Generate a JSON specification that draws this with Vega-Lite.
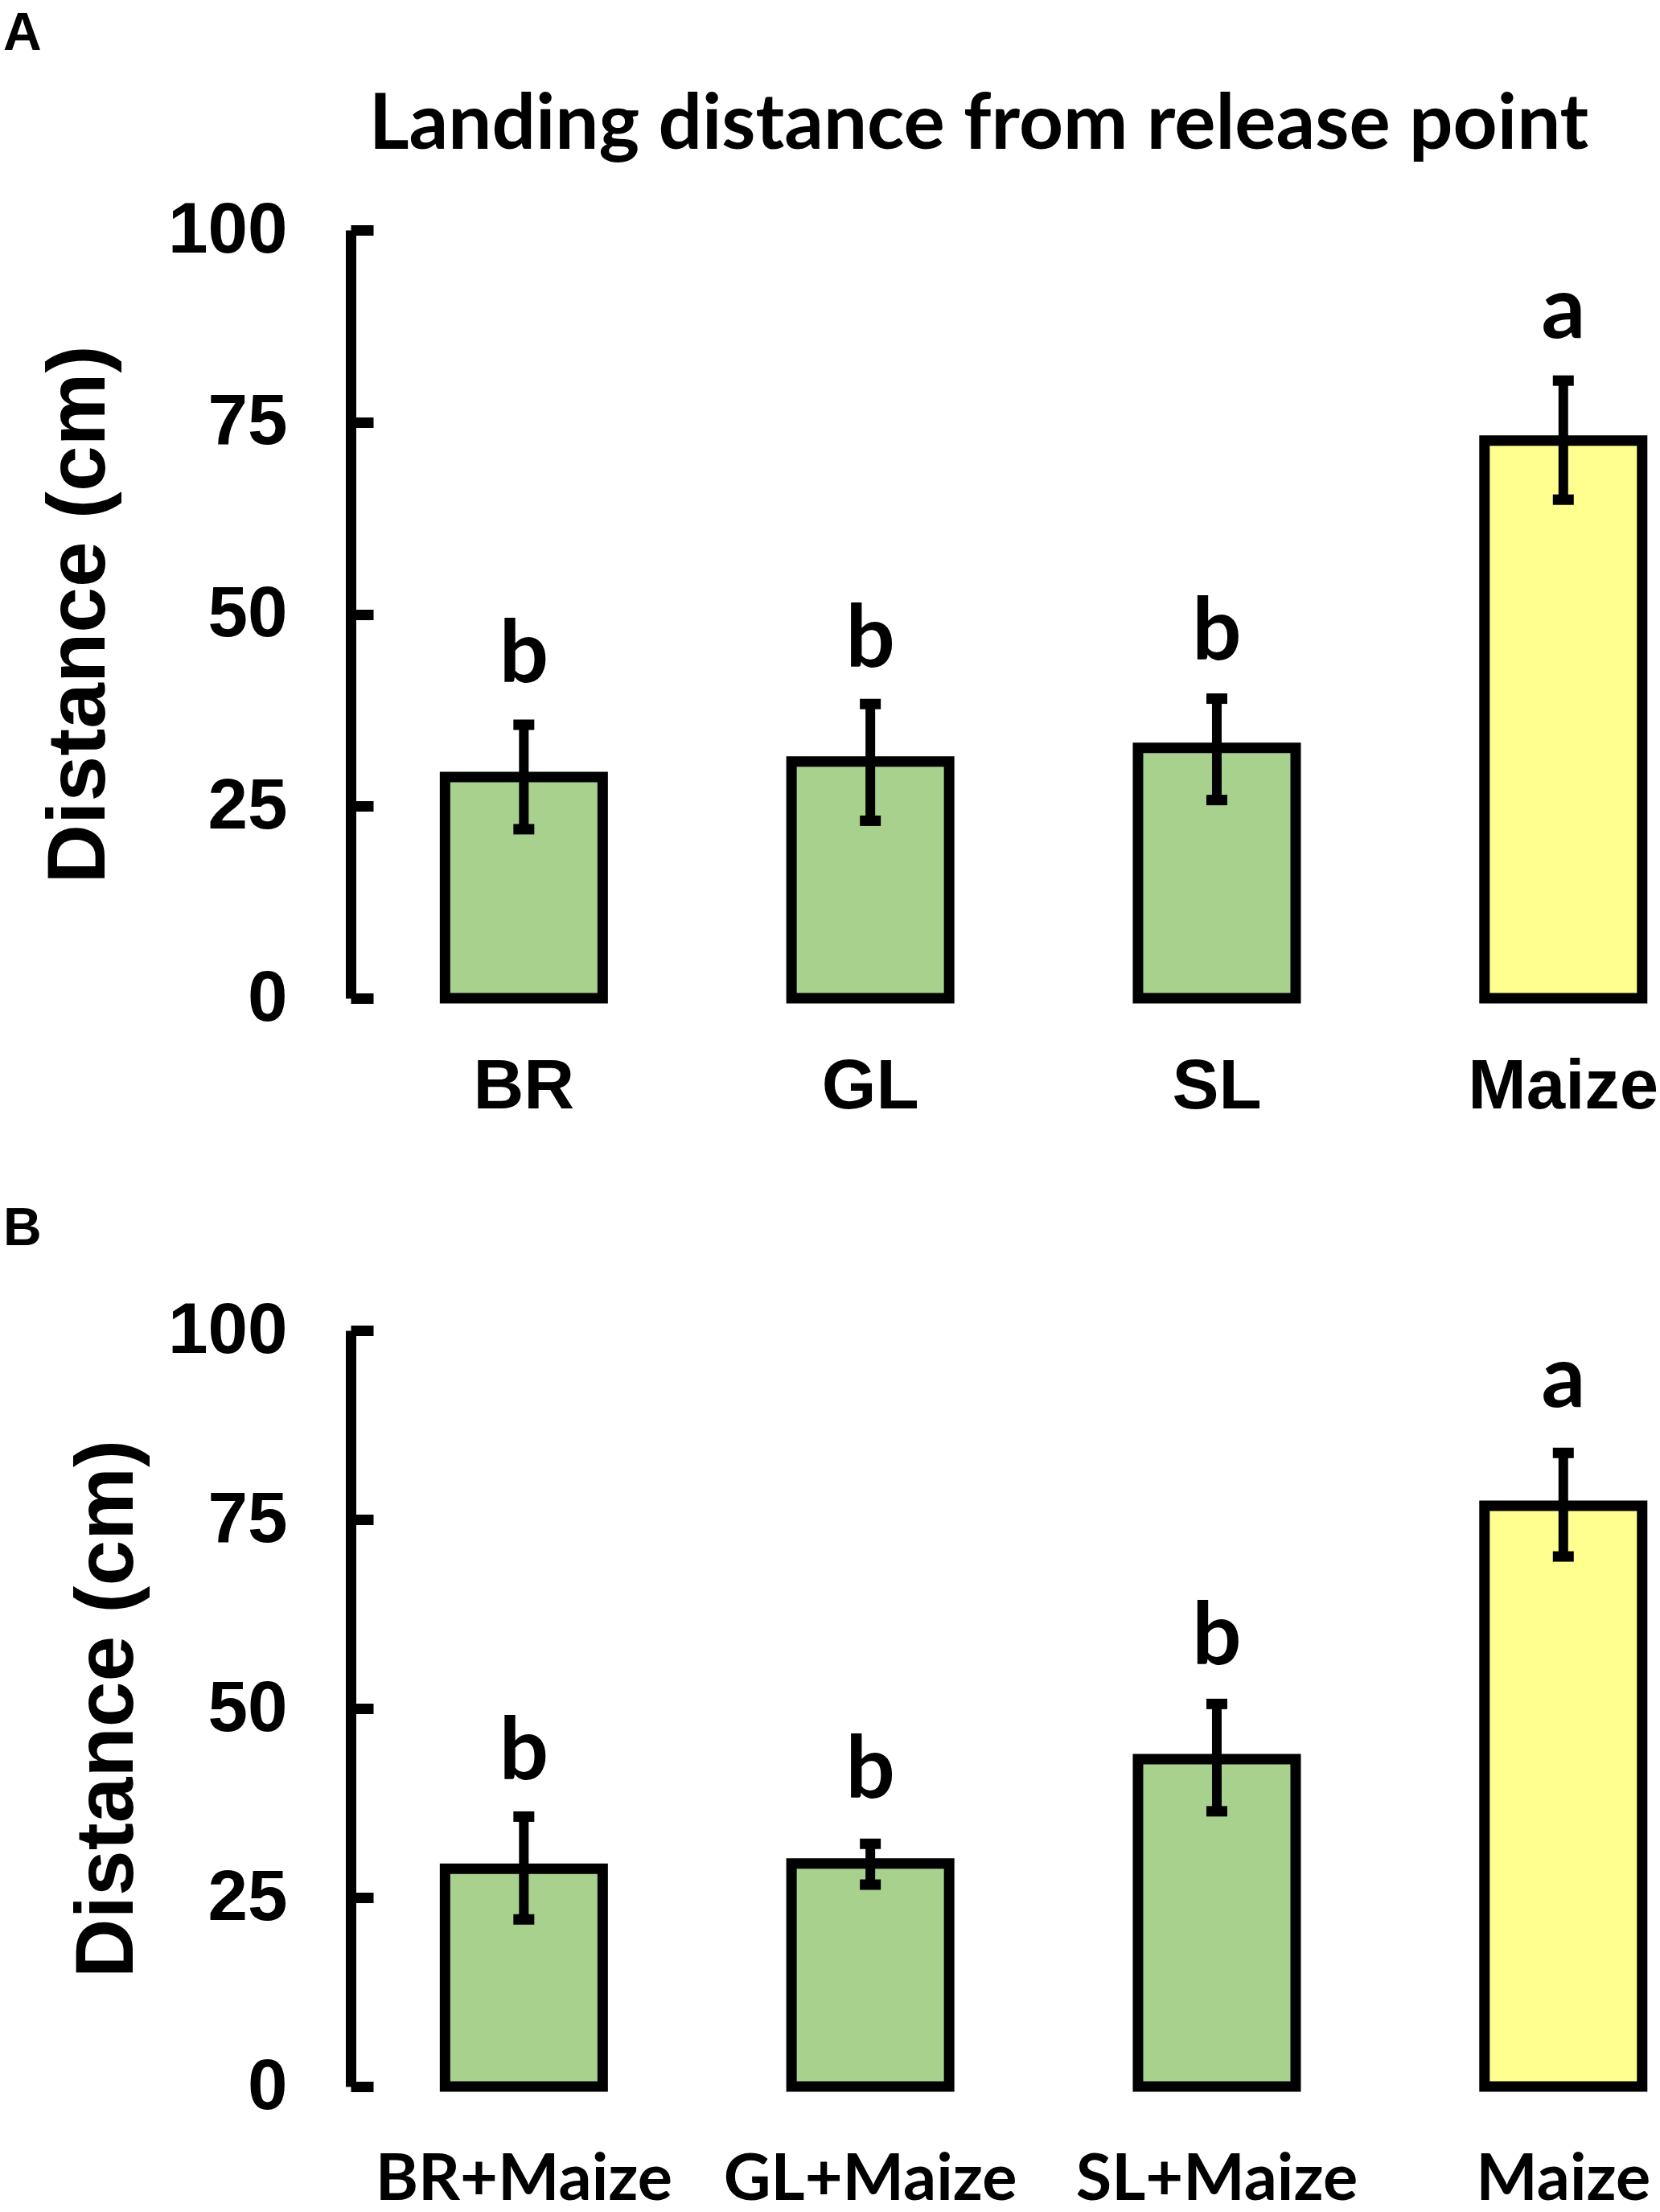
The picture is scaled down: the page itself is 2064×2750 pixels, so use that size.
{
  "$schema": "https://vega.github.io/schema/vega-lite/v6.json",
  "padding": {"left": 4, "top": 9, "right": 0, "bottom": 0},
  "background": "white",
  "title": {"text": "A", "anchor": "start", "frame": "bounds", "font": "Liberation Sans", "fontSize": 66, "fontWeight": "bold", "color": "black", "baseline": "alphabetic", "offset": -20, "dx": 0},
  "config": {"view": {"stroke": null}, "axis": {"grid": false}},
  "spacing": 101,
  "datasets": {
    "panelA": [
      {"group": "BR", "mean": 28.8, "lower": 22.0, "upper": 35.6, "letter": "b", "letter_y": 41.1, "kind": "other"},
      {"group": "GL", "mean": 30.8, "lower": 23.1, "upper": 38.3, "letter": "b", "letter_y": 43.1, "kind": "other"},
      {"group": "SL", "mean": 32.6, "lower": 25.8, "upper": 39.0, "letter": "b", "letter_y": 44.1, "kind": "other"},
      {"group": "Maize", "mean": 72.6, "lower": 64.9, "upper": 80.4, "letter": "a", "letter_y": 86.0, "kind": "maize"}
    ],
    "panelB": [
      {"group": "BR+Maize", "mean": 28.8, "lower": 22.1, "upper": 35.7, "letter": "b", "letter_y": 40.6, "kind": "other"},
      {"group": "GL+Maize", "mean": 29.5, "lower": 26.7, "upper": 32.1, "letter": "b", "letter_y": 38.2, "kind": "other"},
      {"group": "SL+Maize", "mean": 43.3, "lower": 36.4, "upper": 50.6, "letter": "b", "letter_y": 55.9, "kind": "other"},
      {"group": "Maize", "mean": 76.8, "lower": 70.1, "upper": 83.8, "letter": "a", "letter_y": 89.9, "kind": "maize"}
    ]
  },
  "vconcat": [
    {
      "width": 1616,
      "height": 955,
      "data": {"name": "panelA"},
      "title": {"text": "Landing distance from release point", "anchor": "middle", "frame": "group", "font": "Lato", "fontSize": 96, "fontWeight": "bold", "color": "black", "baseline": "alphabetic", "offset": -39, "dx": -27},
      "encoding": {
        "x": {"field": "group", "type": "nominal", "sort": null,
          "scale": {"paddingInner": 0.545, "paddingOuter": 0.148, "align": 0.92},
          "axis": {"title": null, "domain": false, "ticks": false, "labelAngle": 0, "labelLimit": 0, "labelFont": "Liberation Sans", "labelFontSize": 87, "labelFontWeight": "bold", "labelColor": "black", "labelPadding": 67}}
      },
      "layer": [
        {
          "mark": {"type": "bar", "stroke": "black", "strokeWidth": 13},
          "encoding": {
            "y": {"field": "mean", "type": "quantitative", "title": "Distance (cm)", "scale": {"domain": [0, 100], "nice": false},
              "axis": {"values": [0, 25, 50, 75, 100], "domainColor": "black", "domainWidth": 13, "tickColor": "black", "tickWidth": 13, "tickSize": -28, "labelPadding": 107, "labelFont": "Liberation Sans", "labelFontSize": 89, "labelFontWeight": "bold", "labelColor": "black", "titleFont": "Liberation Sans", "titleFontSize": 102, "titleFontWeight": "bold", "titleColor": "black", "titlePadding": 86}},
            "color": {"field": "kind", "type": "nominal", "scale": {"domain": ["other", "maize"], "range": ["#A9D18E", "#FFFF8F"]}, "legend": null}
          }
        },
        {
          "mark": {"type": "rule", "strokeWidth": 12, "color": "black"},
          "encoding": {"y": {"field": "lower", "type": "quantitative", "title": "Distance (cm)", "scale": {"domain": [0, 100], "nice": false}}, "y2": {"field": "upper"}}
        },
        {
          "mark": {"type": "tick", "thickness": 13, "size": 26, "color": "black", "orient": "horizontal", "opacity": 1},
          "encoding": {"y": {"field": "upper", "type": "quantitative", "title": "Distance (cm)", "scale": {"domain": [0, 100], "nice": false}}}
        },
        {
          "mark": {"type": "tick", "thickness": 13, "size": 26, "color": "black", "orient": "horizontal", "opacity": 1},
          "encoding": {"y": {"field": "lower", "type": "quantitative", "title": "Distance (cm)", "scale": {"domain": [0, 100], "nice": false}}}
        },
        {
          "mark": {"type": "text", "font": "Lato", "fontWeight": "bold", "fontSize": 108, "baseline": "alphabetic", "align": "center", "color": "black"},
          "encoding": {"y": {"field": "letter_y", "type": "quantitative", "title": "Distance (cm)", "scale": {"domain": [0, 100], "nice": false}}, "text": {"field": "letter"}}
        }
      ]
    },
    {
      "width": 1616,
      "height": 940,
      "data": {"name": "panelB"},
      "title": {"text": "B", "anchor": "start", "frame": "bounds", "font": "Liberation Sans", "fontSize": 66, "fontWeight": "bold", "color": "black", "baseline": "alphabetic", "offset": -4, "dx": -78},
      "encoding": {
        "x": {"field": "group", "type": "nominal", "sort": null,
          "scale": {"paddingInner": 0.545, "paddingOuter": 0.148, "align": 0.92},
          "axis": {"title": null, "domain": false, "ticks": false, "labelAngle": 0, "labelLimit": 0, "labelFont": "Lato", "labelFontSize": 81, "labelFontWeight": "bold", "labelColor": "black", "labelPadding": 76}}
      },
      "layer": [
        {
          "mark": {"type": "bar", "stroke": "black", "strokeWidth": 13},
          "encoding": {
            "y": {"field": "mean", "type": "quantitative", "title": "Distance (cm)", "scale": {"domain": [0, 100], "nice": false},
              "axis": {"values": [0, 25, 50, 75, 100], "domainColor": "black", "domainWidth": 13, "tickColor": "black", "tickWidth": 13, "tickSize": -28, "labelPadding": 107, "labelFont": "Liberation Sans", "labelFontSize": 89, "labelFontWeight": "bold", "labelColor": "black", "titleFont": "Liberation Sans", "titleFontSize": 102, "titleFontWeight": "bold", "titleColor": "black", "titlePadding": 51}},
            "color": {"field": "kind", "type": "nominal", "scale": {"domain": ["other", "maize"], "range": ["#A9D18E", "#FFFF8F"]}, "legend": null}
          }
        },
        {
          "mark": {"type": "rule", "strokeWidth": 12, "color": "black"},
          "encoding": {"y": {"field": "lower", "type": "quantitative", "title": "Distance (cm)", "scale": {"domain": [0, 100], "nice": false}}, "y2": {"field": "upper"}}
        },
        {
          "mark": {"type": "tick", "thickness": 13, "size": 26, "color": "black", "orient": "horizontal", "opacity": 1},
          "encoding": {"y": {"field": "upper", "type": "quantitative", "title": "Distance (cm)", "scale": {"domain": [0, 100], "nice": false}}}
        },
        {
          "mark": {"type": "tick", "thickness": 13, "size": 26, "color": "black", "orient": "horizontal", "opacity": 1},
          "encoding": {"y": {"field": "lower", "type": "quantitative", "title": "Distance (cm)", "scale": {"domain": [0, 100], "nice": false}}}
        },
        {
          "mark": {"type": "text", "font": "Lato", "fontWeight": "bold", "fontSize": 108, "baseline": "alphabetic", "align": "center", "color": "black"},
          "encoding": {"y": {"field": "letter_y", "type": "quantitative", "title": "Distance (cm)", "scale": {"domain": [0, 100], "nice": false}}, "text": {"field": "letter"}}
        }
      ]
    }
  ]
}
